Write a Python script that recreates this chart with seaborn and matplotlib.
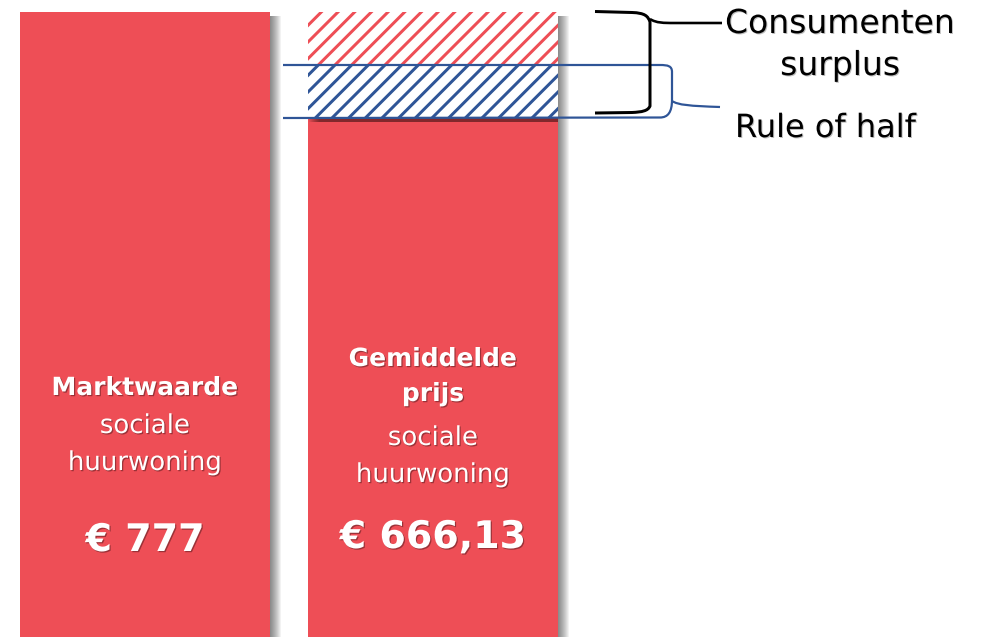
import matplotlib
matplotlib.use("Agg")
import matplotlib.pyplot as plt
import matplotlib.patheffects as pe
from matplotlib.path import Path
from matplotlib.patches import PathPatch
import matplotlib.transforms as mtrans
import seaborn as sns
import pandas as pd

# ---- data ----
categories = ["Marktwaarde", "Gemiddelde prijs"]
values = [777, 666.13]
title_bold = [["Marktwaarde"], ["Gemiddelde", "prijs"]]
title_regular = ["sociale", "huurwoning"]
value_labels = ["€ 777", "€ 666,13"]
annot_surplus = ["Consumenten", "surplus"]
annot_half = "Rule of half"

market = values[0]
price = values[1]
half_point = (market + price) / 2  # rule of half boundary

RED = "#EE4E56"
BLUE = "#2F5597"

DPI = 100
PT = 72 / DPI  # points per pixel

sns.set_theme(style="white")
plt.rcParams["font.family"] = ["DejaVu Sans"]
plt.rcParams["hatch.linewidth"] = 3.0 * PT

W, H = 982, 637
fig = plt.figure(figsize=(W / DPI, H / DPI), dpi=DPI, facecolor="white")
ax = fig.add_axes([0, 0, 1, 1])
ax.set_facecolor("white")

df = pd.DataFrame({"cat": categories, "val": values})
sns.barplot(data=df, x="cat", y="val", color=RED, saturation=1, width=0.868,
            ax=ax, linewidth=0)

# white base for the surplus area on bar 2 (carries the shadow)
ax.bar([1], [market - price], bottom=[price], width=0.868,
       facecolor="white", linewidth=0)

# soft drop shadows
shadow = []
for i in range(1, 12):
    shadow.append(pe.SimplePatchShadow(offset=(i * PT, -4 * PT), shadow_rgbFace="black", alpha=0.05))
shadow.append(pe.Normal())
for p in list(ax.patches):
    p.set_path_effects(shadow)

# hatched areas on top of bar 2
ax.bar([1], [half_point - price], bottom=[price], width=0.868,
       facecolor="white", edgecolor=BLUE, hatch="//", linewidth=0)
ax.bar([1], [market - half_point], bottom=[half_point], width=0.868,
       facecolor="white", edgecolor=RED, hatch="//", linewidth=0)

s = 106 / (market - price)
ax.set_ylim(market - 625 / s, market + 12 / s)
ax.set_xlim(-145 / 288, (W - 145) / 288)
ax.axis("off")

# pixel transform (x px from left, y px from top)
pix = mtrans.Affine2D().scale(1 / W, -1 / H).translate(0, 1) + ax.transAxes
blend = mtrans.blended_transform_factory(ax.transData, pix)

txt_shadow = [pe.withSimplePatchShadow(offset=(1.2 * PT, -1.2 * PT), shadow_rgbFace="black", alpha=0.35)]

# bar texts (sizes in pixels)
bar_lines = [
    [(title_bold[0][0], "bold", 25, 395), (title_regular[0], "normal", 26, 433),
     (title_regular[1], "normal", 26, 470), (value_labels[0], "bold", 38, 551)],
    [(title_bold[1][0], "bold", 25, 366), (title_bold[1][1], "bold", 25, 401),
     (title_regular[0], "normal", 26, 445), (title_regular[1], "normal", 26, 482),
     (value_labels[1], "bold", 38, 548)],
]
for i, lines in enumerate(bar_lines):
    for t, w, fs, y in lines:
        ax.text(i, y, t, transform=blend, ha="center", va="baseline", color="white",
                fontsize=fs * PT, fontweight=w, path_effects=txt_shadow)

# blue bracket (rule of half)
blue_path = Path(
    [(283, 65), (660, 65), (668, 65), (672, 66), (672, 72), (672, 100),
     (672, 112), (668, 117.5), (660, 117.5), (283, 118)],
    [Path.MOVETO, Path.LINETO, Path.CURVE4, Path.CURVE4, Path.CURVE4, Path.LINETO,
     Path.CURVE4, Path.CURVE4, Path.CURVE4, Path.LINETO])
ax.add_patch(PathPatch(blue_path, transform=pix, fill=False, edgecolor=BLUE, lw=2.2 * PT))
ax.add_patch(PathPatch(Path([(672, 101), (678, 105), (690, 106), (720, 107)],
                            [Path.MOVETO, Path.CURVE4, Path.CURVE4, Path.CURVE4]),
                       transform=pix, fill=False, edgecolor=BLUE, lw=2.2 * PT))

# black brace (consumer surplus)
black_path = Path(
    [(595, 11.5), (632, 12.5), (645, 13), (648, 16), (650, 22), (650, 106),
     (648, 111), (642, 112), (632, 112.5), (595, 113)],
    [Path.MOVETO, Path.LINETO, Path.CURVE4, Path.CURVE4, Path.CURVE4, Path.LINETO,
     Path.CURVE4, Path.CURVE4, Path.CURVE4, Path.LINETO])
ax.add_patch(PathPatch(black_path, transform=pix, fill=False, edgecolor="black", lw=3 * PT))
ax.add_patch(PathPatch(Path([(650, 19), (656, 23), (664, 23), (674, 23), (722, 23)],
                            [Path.MOVETO, Path.CURVE4, Path.CURVE4, Path.CURVE4, Path.LINETO]),
                       transform=pix, fill=False, edgecolor="black", lw=2.6 * PT))

ann_shadow = [pe.withSimplePatchShadow(offset=(1 * PT, -1 * PT), shadow_rgbFace="black", alpha=0.25)]
ax.text(725, 33, annot_surplus[0], transform=pix, ha="left", va="baseline",
        fontsize=33 * PT, color="black", path_effects=ann_shadow)
ax.text(840, 75, annot_surplus[1], transform=pix, ha="center", va="baseline",
        fontsize=33 * PT, color="black", path_effects=ann_shadow)
ax.text(735, 137, annot_half, transform=pix, ha="left", va="baseline",
        fontsize=32 * PT, color="black", path_effects=ann_shadow)

fig.savefig("out.png", dpi=DPI, facecolor="white")
